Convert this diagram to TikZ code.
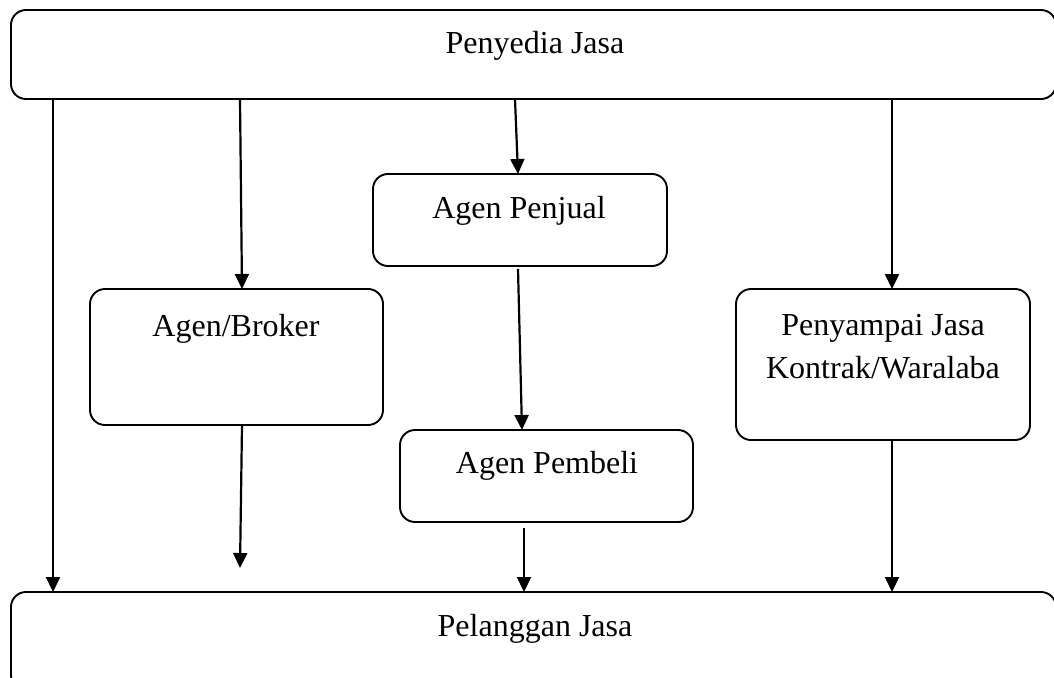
\documentclass[tikz,border=0pt]{standalone}
\usepackage{fontspec}
\setmainfont{Liberation Serif}
\usetikzlibrary{arrows.meta}
\begin{document}
\begin{tikzpicture}[x=1pt,y=-1pt,
  box/.style={draw=black,line width=1.9pt,rounded corners=15pt,rectangle,inner sep=0pt,outer sep=0pt},
  txt/.style={font=\fontsize{32}{43}\selectfont,inner sep=0pt,align=center},
  arr/.style={line width=2.2pt,-{Triangle[length=15pt,width=14pt]}}]
\useasboundingbox (0,0) rectangle (1054,677);
% boxes
\node[box,minimum width=1045pt,minimum height=89pt] (top) at (533.5,54.5) {};
\node[box,minimum width=1045pt,minimum height=98pt] (bot) at (533.5,641) {};
\node[box,minimum width=293pt,minimum height=136pt] (broker) at (236.5,357) {};
\node[box,minimum width=294pt,minimum height=92pt] (penjual) at (520,220) {};
\node[box,minimum width=293pt,minimum height=92pt] (pembeli) at (546.5,476) {};
\node[box,minimum width=294pt,minimum height=151pt] (penyampai) at (883,364.5) {};
% texts
\node[txt,anchor=base] (t1) at (535,53) {Penyedia Jasa};
\node[txt,anchor=base] (t2) at (535,636) {Pelanggan Jasa};
\node[txt,anchor=base] (t3) at (236,336) {Agen/Broker};
\node[txt,anchor=base] (t4) at (519,218) {Agen Penjual};
\node[txt,anchor=base] (t5) at (547,473) {Agen Pembeli};
\node[txt,anchor=base] (t6) at (883,335) {Penyampai Jasa};
\node[txt,anchor=base] (t7) at (883,378) {Kontrak/Waralaba};
% helper coordinates
\coordinate (xL) at (53,0);
\coordinate (xB) at (240,0);
\coordinate (xP) at (515,0);
\coordinate (xS) at (892,0);
\coordinate (xM) at (524,0);
\coordinate (bEnd) at (240,568);
% connectors
\draw[arr] (top.south -| xL) -- (bot.north -| xL);
\draw[arr] (top.south -| xB) -- ([xshift=5.5pt]broker.north);
\draw[arr] (top.south -| xP) -- ([xshift=-2pt]penjual.north);
\draw[arr] (top.south -| xS) -- ([xshift=9pt]penyampai.north);
\draw[arr] ([xshift=5.5pt]broker.south) -- (bEnd);
\draw[arr] ([xshift=-2pt,yshift=-3pt]penjual.south) -- ([xshift=-24.5pt]pembeli.north);
\draw[arr] ([xshift=-22.5pt,yshift=-6pt]pembeli.south) -- (bot.north -| xM);
\draw[arr] ([xshift=9pt]penyampai.south) -- (bot.north -| xS);
\end{tikzpicture}
\end{document}
